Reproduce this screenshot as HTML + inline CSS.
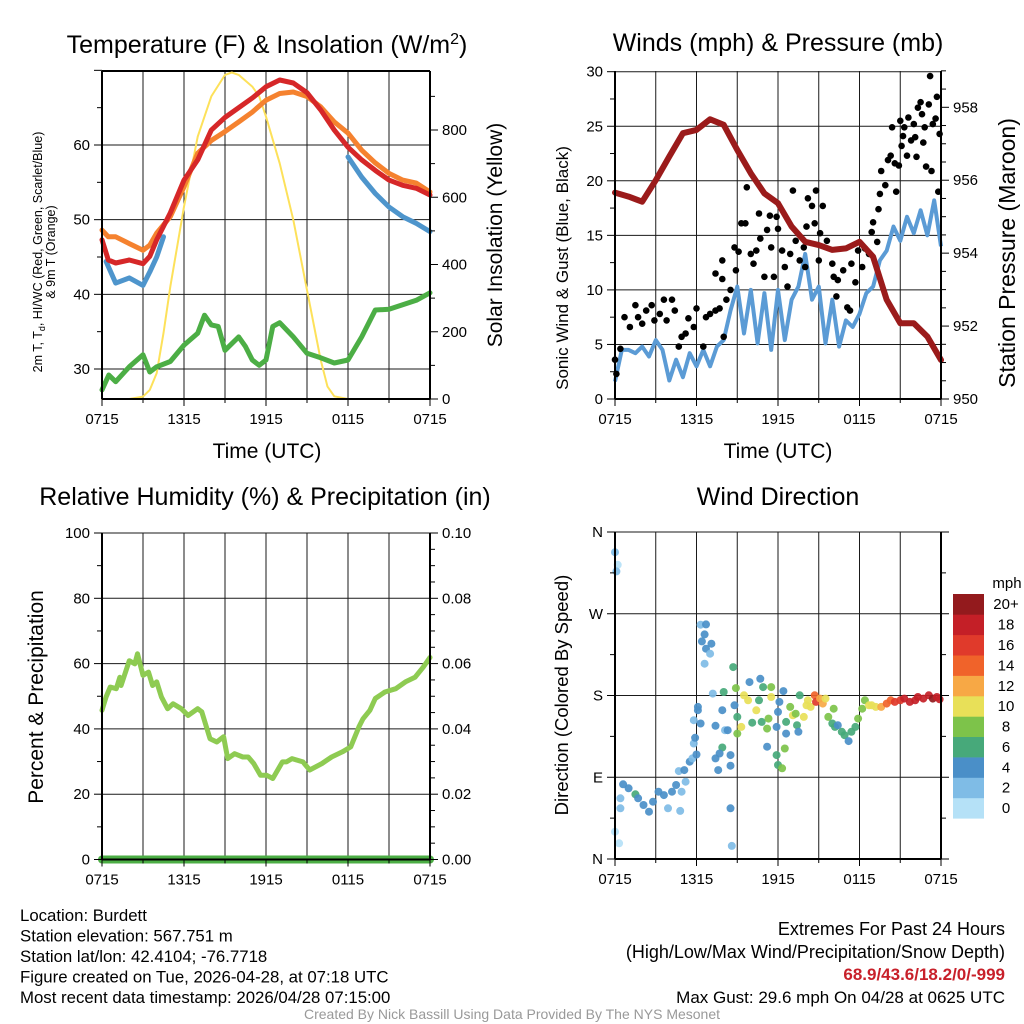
<!DOCTYPE html>
<html><head><meta charset="utf-8">
<style>
html,body{margin:0;padding:0;background:#fff;}
svg{display:block;font-family:"Liberation Sans",Arial,sans-serif;}
</style></head>
<body>
<svg id="c" width="1024" height="1024" viewBox="0 0 1024 1024" xmlns="http://www.w3.org/2000/svg"></svg>
<script>
// ---------- DATA ----------
const timeTicks = ["0715","1315","1915","0115","0715"];
const tHours = [0,0.46,1,2,3,3.5,4,5,6,7,8,9,10,11,12,13,14,15,16,17,18,19,20,21,22,23,24];
const tempRed = [47.3,44.6,44.2,44.6,44.1,45.1,47.3,50.9,55.3,58,62,63.7,65,66.3,67.8,68.7,68.3,67,64.7,62,59.7,58,56.6,55.3,54.6,54.2,53.3];
const tempOrange = [48.6,47.7,47.7,46.8,45.9,46.6,48.2,50.4,54.4,58.9,60.6,61.8,63.1,64.4,66,66.9,67.1,66.5,65.1,63.1,61.6,59.3,57.6,56.2,55.3,54.9,53.7];
const hiwcHours1 = [0.3,1,2,3,3.5,4,4.5];
const hiwc1 = [44.4,41.5,42.2,41.2,43,45,47.7];
const hiwcHours2 = [18,19,20,21,22,23,24];
const hiwc2 = [58.4,55.7,53.5,51.7,50.4,49.5,48.4];
const tdHours = [0,0.5,1,2,3,3.5,4,5,6,7,7.5,8,8.5,9,10,10.5,11,11.5,12,12.5,13,14,15,16,17,18,19,20,21,22,23,24];
const dewpoint = [27.2,29.2,28.3,30.3,31.9,29.6,30.3,31,33.2,34.8,37.2,35.9,35.7,32.5,34.3,33,31.2,30.5,31.2,35.7,36.2,34.3,32.1,31.5,30.8,31.2,34.3,37.9,38,38.6,39.2,40.2];
const solarHours = [0,1,2,3,3.5,4,4.5,5,6,7,8,9,9.5,10,11,11.5,12,13,14,15,16,16.5,17,18,24];
const solar = [0,0,0,7,27,77,196,334,572,780,900,964,971,964,929,900,840,701,533,324,116,37,8,0,0];

const presHours = [0,1,2,3,4,5,6,7,8,9,10,11,12,13,14,15,16,17,18,19,20,21,22,23,24];
const pressure = [955.66,955.55,955.41,956.0,956.65,957.29,957.38,957.67,957.52,956.83,956.19,955.64,955.37,954.73,954.31,954.22,954.09,954.13,954.31,953.9,952.72,952.08,952.08,951.71,951.07];
const windHours = [0,0.5,1,1.5,2,2.5,3,3.5,4,4.5,5,5.5,6,6.5,7,7.5,8,8.5,9,9.5,10,10.5,11,11.5,12,12.5,13,13.5,14,14.5,15,15.5,16,16.5,17,17.5,18,18.5,19,19.5,20,20.5,21,21.5,22,22.5,23,23.5,24];
const windSpeed = [1.6,4.5,4.5,4.2,4.8,3.9,5.4,4.5,1.7,3.6,2.0,4.2,3.0,4.5,3.0,4.8,5.4,8.1,10.3,6.0,10.0,5.1,9.7,4.5,10.0,5.4,9.1,10.3,13.3,9.1,10.3,5.1,9.1,4.8,7.2,6.6,7.8,9.7,10.3,12.7,13.6,15.8,14.5,16.7,15.2,17.3,15,18.2,14];
const gustHours = [0,0.1,0.4,0.7,1.1,1.5,1.7,2.0,2.3,2.7,2.9,3.3,3.6,3.8,4.2,4.4,4.7,4.9,5.2,5.4,5.8,6.0,6.5,6.7,7.0,7.4,7.7,8.0,8.2,8.5,7.4,7.9,7.9,8.8,8.9,9.1,9.3,9.6,9.7,10.0,10.2,10.4,10.6,10.7,11.0,11.2,11.4,11.5,11.7,11.9,12.0,12.3,12.5,12.7,12.9,13.1,13.3,13.6,13.9,14.0,14.1,14.2,14.5,14.7,14.8,15.0,15.1,15.3,15.6,16.0,16.1,16.3,16.4,16.8,17.1,17.3,17.4,17.7,17.9,18.2,18.4,18.7,18.9,19.0,19.3,19.4,19.5,19.6,19.9,20.1,20.3,20.4,20.6,20.7,20.9,21.0,21.1,21.2,21.3,21.5,21.6,21.8,22.0,22.1,22.2,22.3,22.5,22.6,22.7,22.8,22.9,23.1,23.2,23.3,23.4,23.6,23.7,23.8,23.9];
const gustSpeed = [3.6,2.3,4.6,7.5,6.6,8.6,7.5,6.9,8.1,8.6,7.2,7.8,9.1,7.2,9.1,8.1,4.8,5.7,6.0,7.4,6.6,8.3,4.8,7.5,7.8,8.1,8.3,5.7,9.1,10.0,11.5,12.7,11.0,13.9,11.8,13.5,16.1,16.1,19.4,13.3,12.4,13.6,17.0,14.7,11.2,15.5,16.8,13.9,11.2,16.7,15.6,13.6,12.1,10.3,13.3,19.1,14.5,12.7,13.9,12.1,15.8,18.4,17.7,16.1,19.1,12.7,15.2,17.7,14.5,12.4,11.2,9.4,10.9,11.8,8.4,8.1,12.4,10.7,13.6,12.1,13.8,13.3,15.3,16.2,14.4,17.4,18.8,20.9,19.6,21.9,22.3,24.9,21.6,19.0,21.4,25.5,23.2,24.1,24.9,22.3,25.8,23.7,25.2,24.0,22.2,26.7,27.2,26.1,23.5,24.9,21.3,27.0,29.6,20.9,25.2,25.7,27.7,19.0,24.3];

const rhHours = [0,0.3,0.6,1.05,1.3,1.4,1.8,2.0,2.4,2.6,3.0,3.4,3.7,4.0,4.35,4.8,5.2,5.8,6.3,7.0,7.3,7.9,8.4,8.9,9.2,9.7,10.3,10.7,11.1,11.6,12.05,12.5,13.2,13.5,13.9,14.7,15.2,16.1,16.8,17.6,18.2,18.8,19.1,19.6,20.0,20.7,21.5,22.2,22.9,23.5,24.0];
const relHum = [45.7,49.8,52.8,52.3,55.8,53.3,58.4,60.9,59.9,63.0,56.4,57.4,53.3,54.4,49.8,46.2,47.7,46.2,44.1,46.2,45.2,37.0,36.0,37.6,30.9,32.4,31.4,31.4,29.4,25.8,25.8,24.8,29.9,29.9,30.9,29.9,27.4,29.4,31.4,33.0,34.5,40.6,43.1,45.7,49.3,51.3,52.3,54.4,55.8,58.9,61.9];
const precipHours = [0,24];
const precip = [0,0];

const dirHours = [0,0.2,0.1,0,0.3,0.4,0.4,0.6,1.0,1.5,1.7,2.1,2.5,2.8,3.2,3.6,3.9,4.2,4.5,4.8,4.9,5.2,4.7,5.1,5.5,5.7,6.0,5.8,5.9,5.8,6.3,6.1,6.1,6.3,6.7,6.6,6.4,7.1,6.7,7.0,6.6,7.2,7.9,7.4,8.1,8.3,7.9,7.7,7.4,7.6,8.5,8.5,8.5,8.6,8.0,8.7,8.9,8.8,9.0,9.0,9.3,9.5,9.8,9.9,10.1,10.4,10.6,10.7,10.9,10.8,11.2,11.3,11.5,11.5,12.0,12.1,11.9,12.0,12.3,11.9,11.2,12.4,12.6,12.5,12.6,12.9,13.1,13.3,13.4,13.5,13.6,13.9,14.1,14.2,14.4,14.7,14.8,15.1,15.3,15.5,15.7,16.1,16.0,16.2,16.4,16.7,16.9,17.2,17.4,17.7,17.9,18.2,18.4,18.7,18.9,19.2,19.6,20.0,20.3,20.6,21.0,21.3,21.7,22.1,22.3,22.7,23.1,23.4,23.7,23.9];
const dirDeg = [337.8,323.9,316.6,30.1,17.3,55.8,66.8,82.2,77.8,71.2,66.8,59.5,52.1,63.1,74.1,70.4,55.8,74.1,81.5,52.9,74.1,85.1,96.8,97.9,107.1,110.7,115.1,127.2,133.4,152.8,149.2,167.5,163.8,257.9,258.3,247.3,239.6,237,231.5,226,215,182.1,163.8,146.6,141.8,141.8,122.8,116.2,110.7,97.9,114.4,102.7,55.8,14.4,183.9,211.3,188.2,169.2,156.4,138.1,145.4,180.2,174.7,194.8,150.1,163.7,174.7,198.4,189.3,150.9,143.6,154.6,189.3,178.3,161.9,172.9,145.4,103.5,99.8,114.4,123.6,184.8,138.1,121.7,150.9,167.4,158.2,160,147.3,140,180.2,156.4,169.2,174.7,167.4,180.2,172.9,176.6,171.1,176.6,156.4,165.5,149.2,145.4,147.3,140,136.3,129.8,140,145.4,154.6,165.5,174.7,169.2,169.2,167.4,167.4,171.1,174.7,172.9,174.7,176.6,172.9,174.7,178.3,176.6,180.2,176.6,178.3,175.8];
const dirSpeed = [2,0,3,0,0,2,2,4,4,6,4,4,4,4,4,4,2,4,4,2,2,2,2,4,4,2,4,2,4,2,4,4,4,2,4,4,4,4,4,2,2,2,4,4,2,4,6,4,4,4,4,4,4,2,6,6,8,4,6,8,10,10,10,4,6,10,6,4,6,6,8,8,8,10,4,4,4,6,8,6,4,4,4,8,6,8,10,8,6,4,6,10,10,10,10,14,16,12,12,10,8,8,6,6,4,6,6,4,6,6,8,8,8,10,10,10,12,14,14,16,16,18,18,18,18,18,18,20,18,18];
const barLabels = ["0","2","4","6","8","10","12","14","16","18","20+"];
const barColors = ["#b5e1f7","#7fbce6","#4a8fc8","#47a97a","#7dc34a","#e8e058","#f7a845","#f0632a","#e03a2b","#c41f27","#931a1d"];

// ---------- HELPERS ----------
const NS="http://www.w3.org/2000/svg";
const svg=document.getElementById('c');
function mk(tag,attrs,parent){const e=document.createElementNS(NS,tag);for(const k in attrs)e.setAttribute(k,attrs[k]);(parent||svg).appendChild(e);return e;}
function txt(s,x,y,size,opts,parent){opts=opts||{};const e=mk('text',{x:x,y:y,'font-size':size,'text-anchor':opts.anchor||'middle',fill:opts.fill||'#000'},parent);if(opts.weight)e.setAttribute('font-weight',opts.weight);if(opts.rot)e.setAttribute('transform','rotate('+opts.rot+' '+x+' '+y+')');e.textContent=s;return e;}
function lin(d0,d1,r0,r1){return v=>r0+(v-d0)*(r1-r0)/(d1-d0);}
function pathD(xs,ys,fx,fy){return xs.map((h,i)=>(i?'L':'M')+fx(h).toFixed(1)+','+fy(ys[i]).toFixed(1)).join('');}

function panelFrame(p,name){
  const g=mk('g',{});
  
  
  for(let h=0;h<=24;h+=3){const x=p.fx(h);mk('line',{x1:x,y1:p.y0,x2:x,y2:p.y1,stroke:'#1a1a1a','stroke-width':1},g);}
  return g;
}
function hgrid(g,p,y){mk('line',{x1:p.x0,y1:y,x2:p.x1,y2:y,stroke:'#1a1a1a','stroke-width':1},g);}
function frame(g,p){
  mk('line',{x1:p.x0,y1:p.y0,x2:p.x0,y2:p.y1,stroke:'#000','stroke-width':2},g);
  mk('line',{x1:p.x1,y1:p.y0,x2:p.x1,y2:p.y1,stroke:'#000','stroke-width':2},g);
  mk('line',{x1:p.x0,y1:p.y1,x2:p.x1,y2:p.y1,stroke:'#000','stroke-width':2},g);
}
function xAxis(g,p,name){
  const ax=mk('g',{},g);
  
  
  for(let h=0;h<=24;h+=3){const x=p.fx(h);mk('line',{x1:x,y1:p.y1,x2:x,y2:p.y1+(h%6===0?7:4),stroke:'#000','stroke-width':1},ax);}
  timeTicks.forEach((s,i)=>{const t=txt(s,p.fx(i*6),p.y1+25,15,{},ax);});
}
function yTicks(g,x,side,vals,fy,labels,minor){
  vals.forEach((v,i)=>{const y=fy(v);const len=minor&&minor[i]?5:8;mk('line',{x1:x,y1:y,x2:x+side*len,y2:y,stroke:'#000','stroke-width':1},g);
    if(labels&&labels[i]!==''&&labels[i]!=null){const t=txt(labels[i],x+side*12,y+5,15,{anchor:side<0?'end':'start'},g);}});
}

// ---------- PANEL 1 : Temperature ----------
(function(){
  const p={x0:102,x1:430,y0:71,y1:399};
  p.fx=lin(0,24,p.x0,p.x1);const fy=lin(30,60,369,145);const fs=lin(0,800,399,130);
  const g=panelFrame(p,'temperature-panel');
  [30,40,50,60].forEach(v=>hgrid(g,p,fy(v)));
  mk('line',{x1:p.x0,y1:p.y0,x2:p.x1,y2:p.y0,stroke:'#000','stroke-width':2},g);
  const s=[['solar',solarHours,solar,'#fde15a',2,fs],['dewpoint',tdHours,dewpoint,'#4cae45',5,fy],['temp-9m',tHours,tempOrange,'#f5822f',5,fy],['hiwc-1',hiwcHours1,hiwc1,'#4e95cc',5,fy],['hiwc-2',hiwcHours2,hiwc2,'#4e95cc',5,fy],['temp-2m',tHours,tempRed,'#d62728',5,fy]];
  s.forEach(a=>{const e=mk('path',{d:pathD(a[1],a[2],p.fx,a[5]),fill:'none',stroke:a[3],'stroke-width':a[4],'stroke-linejoin':'round','stroke-linecap':'round'},g);});
  frame(g,p);
  const lv=[],ll=[],lm=[];for(let v=30;v<=70;v+=5){lv.push(v);ll.push(v%10===0&&v<70?String(v):'');lm.push(v%10!==0);}
  yTicks(g,p.x0,-1,lv,fy,ll,lm);
  const rv=[],rl=[],rm=[];for(let v=0;v<=900;v+=100){rv.push(v);rl.push(v%200===0?String(v):'');rm.push(v%200!==0);}
  yTicks(g,p.x1,1,rv,fs,rl,rm);
  xAxis(g,p,'temperature-x-axis');
  const t=mk('text',{x:267,y:53,'font-size':25,'text-anchor':'middle'},g);
  t.innerHTML='Temperature (F) &amp; Insolation (W/m<tspan dy="-9" font-size="16">2</tspan><tspan dy="9">)</tspan>';
  const yl=mk('text',{x:42,y:252,'font-size':12.5,'text-anchor':'middle',transform:'rotate(-90 42 252)'},g);
  yl.innerHTML='2m T, T<tspan dy="3" font-size="9">d</tspan><tspan dy="-3">, HI/WC (Red, Green, Scarlet/Blue)</tspan>';
  const yl2=txt('& 9m T (Orange)',55,252,12.5,{rot:-90},g);
  const yr=txt('Solar Insolation (Yellow)',502,235,21,{rot:-90},g);
  const xt=txt('Time (UTC)',267,458,21,{},g);
})();

// ---------- PANEL 2 : Winds ----------
(function(){
  const p={x0:615,x1:941,y0:71,y1:399};
  p.fx=lin(0,24,p.x0,p.x1);const fy=lin(0,30,399,71.7);const fp=lin(950,958,399,107.3);
  const g=panelFrame(p,'winds-panel');
  [5,10,15,20,25,30].forEach(v=>hgrid(g,p,fy(v)));
  const w=mk('path',{d:pathD(windHours,windSpeed,p.fx,fy),fill:'none',stroke:'#5b9bd5','stroke-width':4,'stroke-linejoin':'round'},g);
  
  gustHours.forEach((h,i)=>{const c=mk('circle',{cx:p.fx(h).toFixed(1),cy:fy(gustSpeed[i]).toFixed(1),r:3.3,fill:'#000'},g);
    
    });
  const pr=mk('path',{d:pathD(presHours,pressure,p.fx,fp),fill:'none',stroke:'#9b1b1b','stroke-width':6,'stroke-linejoin':'round','stroke-linecap':'round'},g);
  
  frame(g,p);
  const lv=[],ll=[],lm=[];for(let v=0;v<=30;v+=2.5){lv.push(v);ll.push(v%5===0?String(v):'');lm.push(v%5!==0);}
  yTicks(g,p.x0,-1,lv,fy,ll,lm);
  const rv=[],rl=[],rm=[];for(let v=950;v<=959;v+=0.5){rv.push(v);rl.push(v%2===0?String(v):'');rm.push(v%2!==0);}
  yTicks(g,p.x1,1,rv,fp,rl,rm);
  xAxis(g,p,'winds-x-axis');
  const t=txt('Winds (mph) & Pressure (mb)',778,51,25,{},g);
  const yl=txt('Sonic Wind & Gust (Blue, Black)',568,268,17,{rot:-90},g);
  const yr=txt('Station Pressure (Maroon)',1015,253,23,{rot:-90},g);
  const xt=txt('Time (UTC)',778,458,21,{},g);
})();

// ---------- PANEL 3 : RH ----------
(function(){
  const p={x0:102,x1:430,y0:533,y1:859.5};
  p.fx=lin(0,24,p.x0,p.x1);const fy=lin(0,100,859.5,533);const fr=lin(0,0.1,859.5,533);
  const g=panelFrame(p,'humidity-panel');
  [20,40,60,80,100].forEach(v=>hgrid(g,p,fy(v)));
  const rh=mk('path',{d:pathD(rhHours,relHum,p.fx,fy),fill:'none',stroke:'#8ecb52','stroke-width':5,'stroke-linejoin':'round','stroke-linecap':'round'},g);
  
  const pc=mk('path',{d:pathD(precipHours,precip,p.fx,fr),fill:'none',stroke:'#4cae45','stroke-width':8,'stroke-linecap':'round'},g);
  
  frame(g,p);
  const lv=[],ll=[],lm=[];for(let v=0;v<=100;v+=10){lv.push(v);ll.push(v%20===0?String(v):'');lm.push(v%20!==0);}
  yTicks(g,p.x0,-1,lv,fy,ll,lm);
  const rv=[],rl=[],rm=[];for(let i=0;i<=20;i++){const v=i*0.005;rv.push(v);rl.push(i%4===0?v.toFixed(2):'');rm.push(i%4!==0);}
  yTicks(g,p.x1,1,rv,fr,rl,rm);
  xAxis(g,p,'humidity-x-axis');
  const t=txt('Relative Humidity (%) & Precipitation (in)',265,505,25,{},g);
  const yl=txt('Percent & Precipitation',43,697,21,{rot:-90},g);
})();

// ---------- PANEL 4 : Wind direction ----------
(function(){
  const p={x0:615,x1:941,y0:532,y1:859};
  p.fx=lin(0,24,p.x0,p.x1);const fy=lin(0,360,859,532);
  const g=panelFrame(p,'wind-direction-panel');
  [90,180,270,360].forEach(v=>hgrid(g,p,fy(v)));
  dirHours.forEach((h,i)=>{const ci=Math.min(10,Math.floor(dirSpeed[i]/2));
    const c=mk('circle',{cx:p.fx(h).toFixed(1),cy:fy(dirDeg[i]).toFixed(1),r:4,fill:barColors[ci],'fill-opacity':0.92},g);
    
    });
  frame(g,p);
  const dl=['N','E','S','W','N'];
  const vals=[],labs=[],mn=[];for(let v=0;v<=360;v+=45){vals.push(v);labs.push(v%90===0?dl[v/90]:'');mn.push(v%90!==0);}
  yTicks(g,p.x0,-1,vals,fy,labs,mn);
  yTicks(g,p.x1,1,vals,fy,null,mn);
  xAxis(g,p,'wind-direction-x-axis');
  const t=txt('Wind Direction',778,505,25,{},g);
  const yl=txt('Direction (Colored By Speed)',568,695,18.5,{rot:-90},g);
  const cb=mk('g',{},g);
  const bh=(818.3-594)/11;
  barColors.forEach((col,i)=>{const y=818.3-(i+1)*bh;mk('rect',{x:953,y:y.toFixed(1),width:31,height:(bh+0.3).toFixed(1),fill:col},cb);
    const l=txt(barLabels[i],1006,y+bh/2+5,15,{},cb);});
  const u=txt('mph',1007,588,15,{},cb);
})();

// ---------- FOOTER ----------
(function(){
  const g=mk('g',{});
  const lines=['Location: Burdett','Station elevation: 567.751 m','Station lat/lon: 42.4104; -76.7718','Figure created on Tue, 2026-04-28, at 07:18 UTC','Most recent data timestamp: 2026/04/28 07:15:00'];
  lines.forEach((s,i)=>txt(s,20,921+i*20.5,16.8,{anchor:'start'},g));
  const r=mk('g',{});
  txt('Extremes For Past 24 Hours',1005,935,18,{anchor:'end'},r);
  txt('(High/Low/Max Wind/Precipitation/Snow Depth)',1005,958,18,{anchor:'end'},r);
  txt('68.9/43.6/18.2/0/-999',1005,980,17,{anchor:'end',fill:'#c8202a',weight:'bold'},r);
  txt('Max Gust: 29.6 mph On 04/28 at 0625 UTC',1005,1003,17,{anchor:'end'},r);
  const c=txt('Created By Nick Bassill Using Data Provided By The NYS Mesonet',512,1019,14,{fill:'#999'});
  
})();
</script>
</body></html>
